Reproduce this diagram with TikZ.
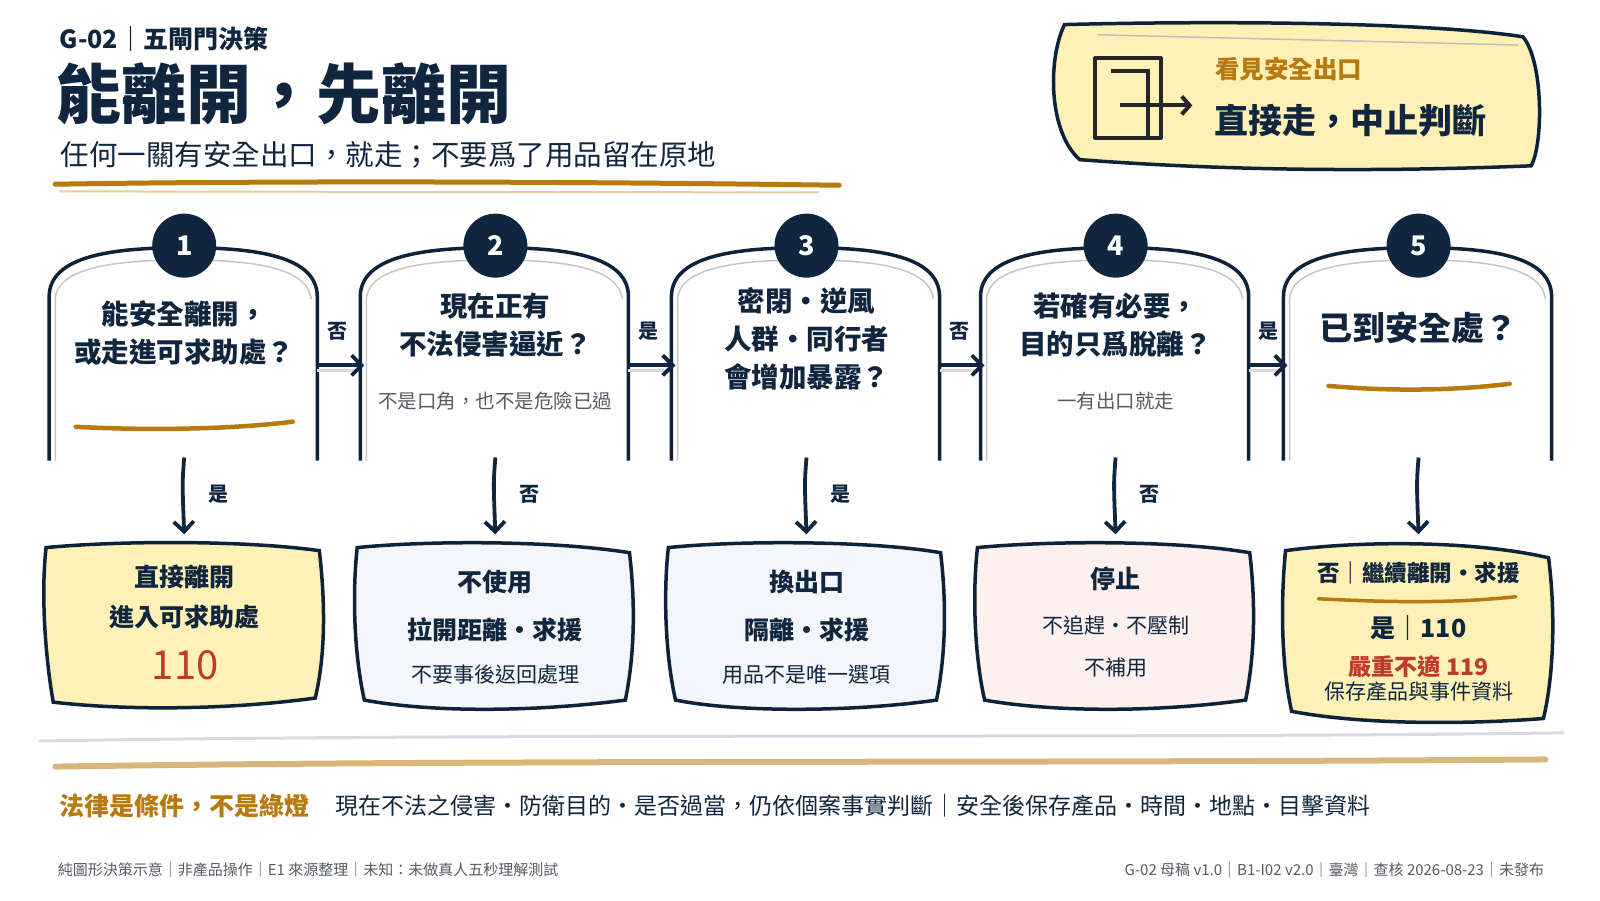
\documentclass[tikz,border=0pt]{standalone}
\usepackage{fontspec}
\usetikzlibrary{arrows.meta}
\setmainfont{Noto Sans CJK TC}
\begin{document}
\definecolor{navy}{HTML}{10263F}
\definecolor{gold}{HTML}{B8790F}
\definecolor{lgold}{HTML}{D9B77A}
\definecolor{cred}{HTML}{C0392B}
\definecolor{yel}{HTML}{FEF1B6}
\definecolor{lblue}{HTML}{F3F6FA}
\definecolor{pink}{HTML}{FDF0EF}
\definecolor{gtxt}{HTML}{555B63}
\begin{tikzpicture}[x=1.0235pt,y=-1.0235pt,
  q/.style={font=\fontsize{27.5}{38}\selectfont\bfseries,text=navy,align=center},
  note/.style={font=\fontsize{19.5}{20}\selectfont,text=gtxt},
  bt/.style={font=\fontsize{25}{26}\selectfont\bfseries,text=navy},
  bs/.style={font=\fontsize{21}{22}\selectfont,text=navy},
  lab/.style={font=\fontsize{20}{20}\selectfont\bfseries,text=navy},
  num/.style={circle,fill=navy,minimum size=64pt,inner sep=0pt,text=white,font=\fontsize{27}{28}\selectfont\bfseries},
  gate/.style={line width=3.5pt,draw=navy!90!black},
  box/.style={line width=3.5pt,draw=navy!90!black},
  arr/.style={line width=3.8pt,draw=navy,->,>={Straight Barb[length=10pt,width=20pt]}},
  uline/.style={line width=4.5pt,draw=gold,line cap=round},
  foot/.style={font=\fontsize{15}{16}\selectfont,text=gtxt}]
\path[use as bounding box] (0,0) rectangle (1563.26,879.34);
% header
\node[anchor=west,text=navy,font=\fontsize{25}{26}\selectfont\bfseries] (code) at (55,38) {G-02｜五閘門決策};
\node[anchor=west,text=navy,font=\fontsize{65}{66}\selectfont\bfseries] (title) at (52,92) {能離開，先離開};
\node[anchor=west,text=navy,font=\fontsize{28.5}{30}\selectfont] (sub) at (56,151) {任何一關有安全出口，就走；不要爲了用品留在原地};
\draw[line width=5pt,gold,line cap=round] (54,180) .. controls (300,176) and (600,178) .. (820,181);
\draw[line width=2pt,lgold!70] (58,187) -- (800,188);
% top-right box
\draw[box,fill=yel] (1040,24) .. controls (1200,20) and (1400,22) .. (1488,36) .. controls (1508,60) and (1508,140) .. (1496,162) .. controls (1350,168) and (1200,167) .. (1055,156) .. controls (1025,130) and (1023,60) .. (1040,24) -- cycle;
\draw[line width=1.5pt,gray!50] (1073,34) -- (1483,44);
\draw[line width=4pt,black!85,line join=round] (1070,57) rectangle (1134,135);
\draw[line width=4pt,black!85] (1085,69) -- (1122,69) -- (1122,135);
\draw[line width=4pt,black!85,->,>={Straight Barb[length=8pt,width=18pt]}] (1094,103) -- (1165,103);
\node[anchor=west,text=gold,font=\fontsize{24.5}{26}\selectfont\bfseries] (see) at (1184,68) {看見安全出口};
\node[anchor=west,text=navy,font=\fontsize{34}{36}\selectfont\bfseries] (go) at (1183,118) {直接走，中止判斷};
% gates
\foreach \i/\cx in {1/180,2/484,3/788,4/1090,5/1386}{
  \pgfmathsetmacro{\xa}{\cx-132}\pgfmathsetmacro{\xb}{\cx+130}
  \draw[gate] (\xa,450) -- (\xa,290) .. controls (\xa,250) and (\cx-70,242) .. (\cx,242) .. controls (\cx+70,242) and (\xb,250) .. (\xb,290) -- (\xb,450);
  \draw[line width=1.5pt,gray!45] (\xa+6,450) -- (\xa+6,292) .. controls (\xa+8,262) and (\cx-70,254) .. (\cx,254) .. controls (\cx+70,254) and (\xb-10,262) .. (\xb-6,292);
  \node[num] (n\i) at (\cx,240) {\i};
  \coordinate (gb\i) at (\cx,447);
  \coordinate (gr\i) at (\xb,357);
  \coordinate (gl\i) at (\xa,357);
}
% questions
\node[q] (q1) at (180,325) {能安全離開，\\或走進可求助處？};
\draw[uline] (74,417) .. controls (150,421) and (230,419) .. (286,412);
\node[q] (q2) at (484,318) {現在正有\\不法侵害逼近？};
\node[note] (t2) at (484,392) {不是口角，也不是危險已過};
\node[q] (q3) at (788,331) {密閉・逆風\\人群・同行者\\會增加暴露？};
\node[q] (q4) at (1090,318) {若確有必要，\\目的只爲脫離？};
\node[note] (t4) at (1090,392) {一有出口就走};
\node[q,font=\fontsize{33}{34}\selectfont\bfseries] (q5) at (1386,320) {已到安全處？};
\draw[uline] (1298,377) .. controls (1365,383) and (1425,381) .. (1475,375);
% horizontal arrows
\foreach \a/\b/\t in {1/2/否,2/3/是,3/4/否,4/5/是}{
  \draw[line width=2.5pt,gray!30] ([yshift=-5pt]gr\a) -- ([xshift=-2pt,yshift=-5pt]gl\b);
  \draw[arr] (gr\a) -- ([xshift=4pt]gl\b);
  \node[lab] at ([xshift=20pt,yshift=34pt]gr\a) {\t};
}
% boxes
\draw[box,fill=yel] (45,535) .. controls (120,528) and (240,528) .. (312,538) .. controls (318,590) and (318,640) .. (308,682) .. controls (220,694) and (120,694) .. (52,686) .. controls (44,640) and (40,580) .. (45,535) -- cycle;
\draw[box,fill=lblue] (349,535) .. controls (420,528) and (540,528) .. (615,540) .. controls (621,590) and (620,640) .. (611,684) .. controls (520,696) and (420,696) .. (356,684) .. controls (346,640) and (344,580) .. (349,535) -- cycle;
\draw[box,fill=lblue] (653,535) .. controls (720,528) and (850,528) .. (919,540) .. controls (925,590) and (924,640) .. (915,684) .. controls (830,696) and (720,696) .. (660,684) .. controls (650,640) and (648,580) .. (653,535) -- cycle;
\draw[box,fill=pink] (955,535) .. controls (1030,528) and (1150,528) .. (1221,540) .. controls (1227,590) and (1226,640) .. (1217,684) .. controls (1130,696) and (1030,696) .. (962,684) .. controls (952,640) and (950,580) .. (955,535) -- cycle;
\draw[box,fill=yel] (1256,538) .. controls (1330,528) and (1440,528) .. (1513,545) .. controls (1520,600) and (1518,660) .. (1508,702) .. controls (1430,708) and (1330,708) .. (1262,695) .. controls (1252,650) and (1251,590) .. (1256,538) -- cycle;
\coordinate (bt1) at (180,522);\coordinate (bt2) at (484,522);\coordinate (bt3) at (788,522);\coordinate (bt4) at (1090,522);\coordinate (bt5) at (1386,522);
\foreach \i/\t in {1/是,2/否,3/是,4/否,5/}{
  \draw[arr] (gb\i) .. controls ([xshift=-2pt,yshift=-25pt]gb\i) .. (bt\i);
  \node[lab] at ([xshift=34pt,yshift=-37pt]gb\i) {\t};
}
\node[bt] (b1a) at (180,564) {直接離開};
\node[bt] (b1b) at (180,603) {進入可求助處};
\node[text=cred,font=\fontsize{40}{42}\selectfont] (b1c) at (181,650) {110};
\node[bt] (b2a) at (484,569) {不使用};
\node[bt] (b2b) at (484,615) {拉開距離・求援};
\node[bs] (b2c) at (484,659) {不要事後返回處理};
\node[bt] (b3a) at (788,569) {換出口};
\node[bt] (b3b) at (788,615) {隔離・求援};
\node[bs] (b3c) at (788,659) {用品不是唯一選項};
\node[bt] (b4a) at (1090,566) {停止};
\node[bs] (b4b) at (1090,611) {不追趕・不壓制};
\node[bs] (b4c) at (1090,652) {不補用};
\node[bt,font=\fontsize{22.5}{24}\selectfont\bfseries] (b5a) at (1386,560) {否｜繼續離開・求援};
\draw[uline,line width=3.5pt] (1288,585) .. controls (1365,589) and (1425,589) .. (1481,583);
\node[bt] (b5b) at (1386,614) {是｜110};
\node[text=cred,font=\fontsize{23}{24}\selectfont\bfseries] (b5c) at (1386,651) {嚴重不適 119};
\node[bs] (b5d) at (1386,676) {保存產品與事件資料};
% bottom
\draw[line width=3pt,blue!20!gray!25] (38,724) .. controls (500,716) and (1100,722) .. (1528,716);
\draw[line width=6pt,lgold,line cap=round] (54,749) .. controls (500,742) and (1000,746) .. (1510,742);
\node[anchor=west,text=gold,font=\fontsize{25}{26}\selectfont\bfseries] (law) at (55,787) {法律是條件，不是綠燈};
\node[anchor=west,text=navy,font=\fontsize{23}{24}\selectfont] (lawt) at (324,787) {現在不法之侵害・防衛目的・是否過當，仍依個案事實判斷｜安全後保存產品・時間・地點・目擊資料};
\node[foot,anchor=west] (fl) at (53,850) {純圖形決策示意｜非產品操作｜E1 來源整理｜未知：未做真人五秒理解測試};
\node[foot,anchor=east] (fr) at (1512,850) {G-02 母稿 v1.0｜B1-I02 v2.0｜臺灣｜查核 2026-08-23｜未發布};
\end{tikzpicture}
\end{document}
